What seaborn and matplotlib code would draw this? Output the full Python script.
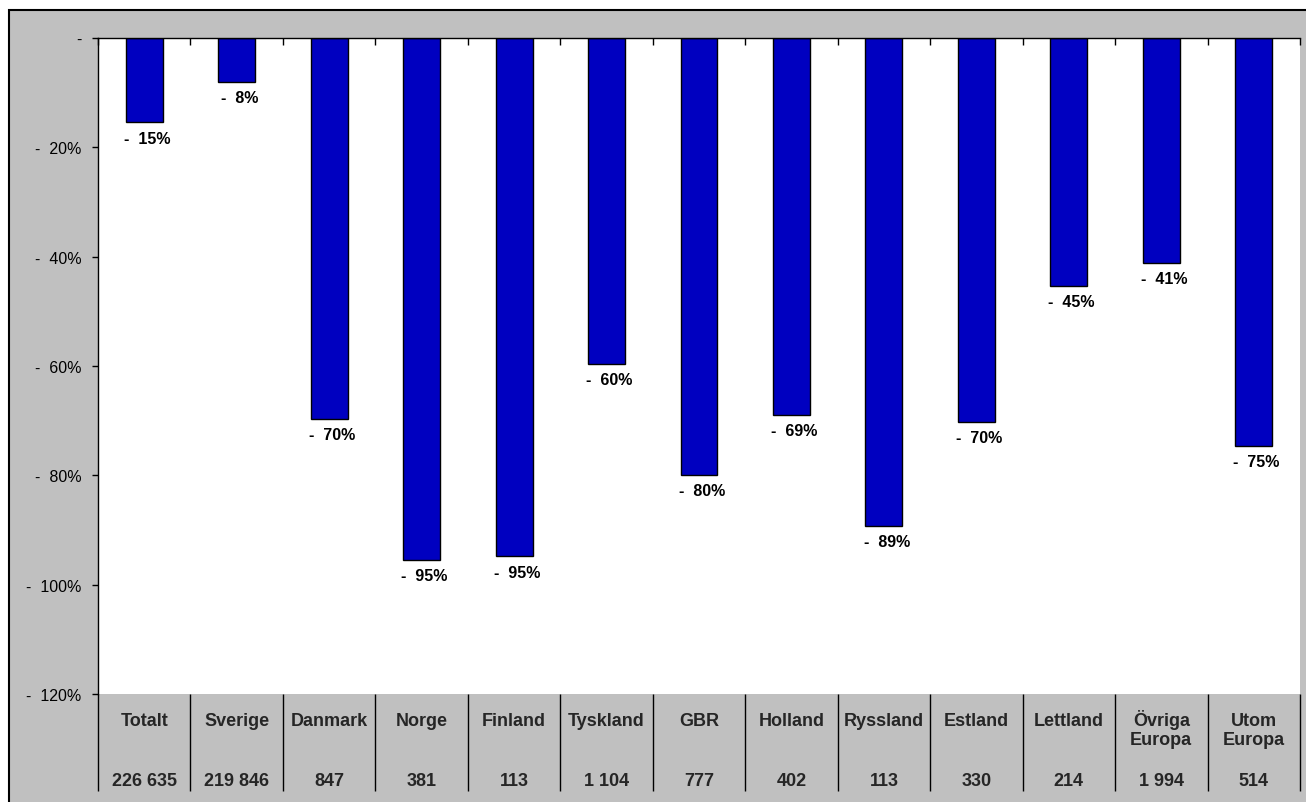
import pandas as pd
import seaborn as sns
from matplotlib import pyplot as plt
from matplotlib.patches import Rectangle
from matplotlib.transforms import blended_transform_factory

# data
countries = ['Totalt', 'Sverige', 'Danmark', 'Norge', 'Finland', 'Tyskland',
             'GBR', 'Holland', 'Ryssland', 'Estland', 'Lettland',
             'Övriga\nEuropa', 'Utom\nEuropa']
change_pct = [-15.4, -8.0, -69.7, -95.4, -94.8, -59.6, -79.9, -68.9,
              -89.2, -70.2, -45.3, -41.1, -74.6]
counts = ['226 635', '219 846', '847', '381', '113', '1 104', '777', '402',
          '113', '330', '214', '1 994', '514']
yticks = [0, -20, -40, -60, -80, -100, -120]

GRAY = '#C0C0C0'
BLUE = '#0000C0'


def main():
    sns.set_style('white')
    plt.rcParams['font.family'] = ['Liberation Sans', 'DejaVu Sans']

    W, H = 1306, 803
    fig = plt.figure(figsize=(W / 100, H / 100), dpi=100)
    fig.patch.set_facecolor('white')
    # grey chart panel (cut off at right and bottom)
    fig.patches.append(Rectangle((9 / W, -0.05), 1.0, (H - 11) / H + 0.05,
                                 transform=fig.transFigure, facecolor=GRAY,
                                 edgecolor='black', linewidth=1.5,
                                 zorder=-10))

    left, right, top, bottom = 98, 1300, 39, 695
    ax = fig.add_axes([left / W, (H - bottom) / H,
                       (right - left) / W, (bottom - top) / H])
    ax.set_zorder(5)
    ax.set_facecolor('white')

    data = pd.DataFrame({'land': countries, 'andel': change_pct})
    sns.barplot(data=data, x='land', y='andel', color=BLUE, saturation=1,
                width=0.4, edgecolor='black', linewidth=1, ax=ax)

    ax.set_xlim(-0.5, len(countries) - 0.5)
    ax.set_ylim(-120, 0)
    ax.set_xlabel('')
    ax.set_ylabel('')

    for s in ['right', 'bottom']:
        ax.spines[s].set_visible(False)
    for s in ['left', 'top']:
        ax.spines[s].set_color('black')
        ax.spines[s].set_linewidth(1)

    ax.xaxis.set_ticks_position('top')
    ax.set_xticks([k - 0.5 for k in range(len(countries) + 1)])
    ax.set_xticklabels([])
    ax.tick_params(axis='x', direction='in', length=5, width=1, color='black')

    ax.set_yticks(yticks)
    ax.set_yticklabels(['-'] + [f'-  {abs(v)}%' for v in yticks[1:]])
    ax.tick_params(axis='y', direction='out', length=4.5, width=1,
                   color='black', labelsize=11.5, labelcolor='black', pad=7.5)
    ax.yaxis.set_ticks_position('left')

    # value labels under each bar
    for i, v in enumerate(change_pct):
        ax.annotate(f'-  {abs(round(v))}%', (i, v), xytext=(2, -6),
                    textcoords='offset points', ha='center', va='top',
                    fontsize=11.5, fontweight='bold', color='black')

    # data table below the plot area
    trans = blended_transform_factory(ax.transData, ax.transAxes)
    h = bottom - top

    def ypos(py):
        return -(py - bottom) / h

    ax.vlines([k - 0.5 for k in range(len(countries) + 1)], 0, ypos(792),
              transform=trans, colors='black', linewidth=1, clip_on=False)
    for i, (name, n) in enumerate(zip(countries, counts)):
        for j, line in enumerate(name.split('\n')):
            ax.text(i, ypos(726 + 19 * j), line, transform=trans,
                    ha='center', va='baseline', fontsize=13,
                    fontweight='bold')
        ax.text(i, ypos(786), n, transform=trans, ha='center',
                va='baseline', fontsize=13, fontweight='bold')

    plt.savefig('out.png', dpi=100)


if __name__ == '__main__':
    main()
